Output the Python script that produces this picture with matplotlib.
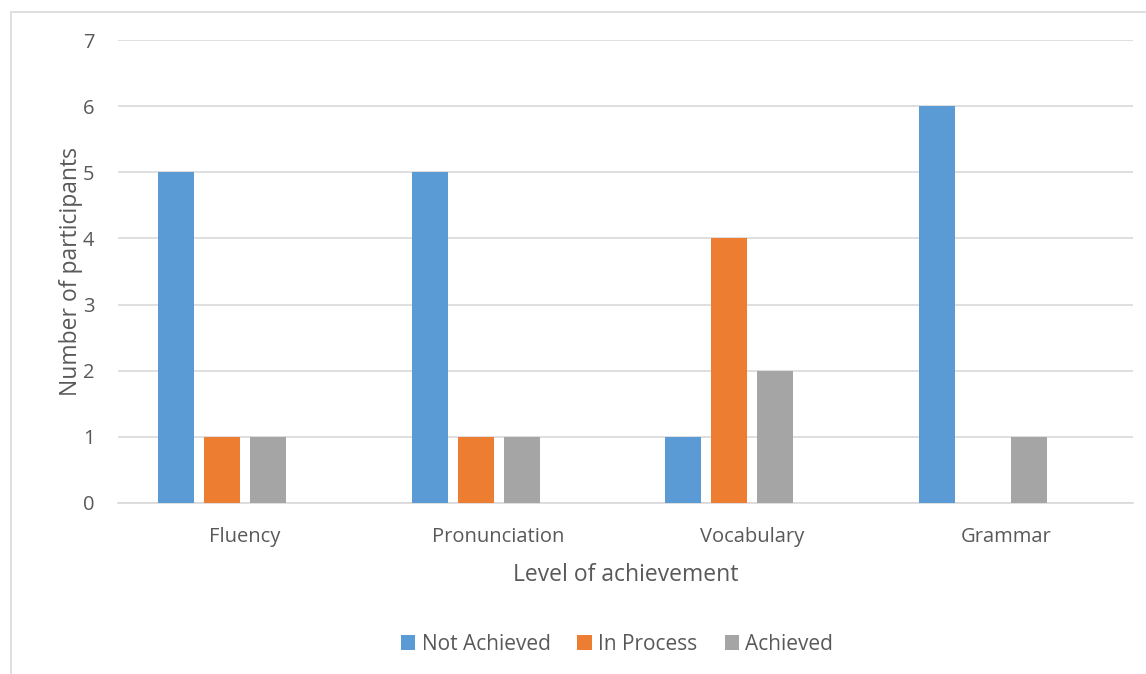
import matplotlib.pyplot as plt
import numpy as np
from matplotlib.patches import Rectangle

categories = ['Fluency', 'Pronunciation', 'Vocabulary', 'Grammar']
series_names = ['Not Achieved', 'In Process', 'Achieved']
not_achieved = [5, 5, 1, 6]
in_process = [1, 1, 4, 0]
achieved = [1, 1, 2, 1]
colors = ['#5b9bd5', '#ed7d31', '#a5a5a5']

plt.rcParams['font.family'] = ['Open Sans', 'DejaVu Sans']
text_color = '#595959'

W, H = 1146, 674
fig = plt.figure(figsize=(W / 100, H / 100), dpi=100)

# chart border (runs off the right and bottom edges)
fig.patches.append(Rectangle((10.5 / W, -1), 2.0, 2 - 11.5 / H, transform=fig.transFigure,
                             fill=False, edgecolor='#d9d9d9', lw=1.2))

left, right, top, bottom = 118, 1133, 40, 503
ax = fig.add_axes([left / W, 1 - bottom / H, (right - left) / W, (bottom - top) / H])

x = np.arange(len(categories))
step = 46 / 254
width = 36 / 254
for i, (vals, name) in enumerate(zip([not_achieved, in_process, achieved], series_names)):
    offs = (i - 1.5) * step
    ax.bar(x + offs, vals, width, color=colors[i], label=name, zorder=3)

ax.set_xlim(-0.5, len(categories) - 0.5)
ax.set_ylim(0, 7)
ax.set_yticks(range(0, 8))
ax.set_xticks(x)
ax.set_xticklabels(categories, fontsize=15.5)
ax.grid(axis='y', color='#d9d9d9', lw=1.2, zorder=0)
for s in ['top', 'right', 'left']:
    ax.spines[s].set_visible(False)
ax.spines['bottom'].set_color('#d9d9d9')
ax.spines['bottom'].set_linewidth(1.2)
ax.tick_params(length=0, labelsize=14.5, colors=text_color)
ax.tick_params(axis='y', pad=17)
ax.tick_params(axis='x', pad=17)

ax.set_xlabel('Level of achievement', fontsize=16.5, color=text_color, labelpad=12)
ax.set_ylabel('Number of participants', fontsize=16.5, color=text_color, labelpad=0)

fig.legend(loc='center', bbox_to_anchor=(617 / W, 1 - 644 / H), ncol=3, frameon=False,
           fontsize=15, handlelength=0.7, handleheight=0.7, handletextpad=0.3,
           columnspacing=1.3, labelcolor=text_color)

fig.savefig('out.png', dpi=100)
